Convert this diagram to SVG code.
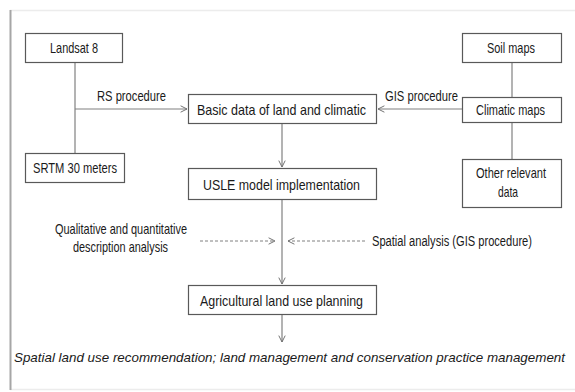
<svg xmlns="http://www.w3.org/2000/svg" width="575" height="392" viewBox="0 0 575 392">
<defs>
<marker id="arr" viewBox="0 0 10 10" refX="9" refY="5" markerWidth="8" markerHeight="8" markerUnits="userSpaceOnUse" orient="auto">
<path d="M1,1 L9,5 L1,9" fill="none" stroke="#6e6e6e" stroke-width="1.2"/>
</marker>
</defs>
<style>
.box{fill:#fff;stroke:#595959;stroke-width:1.2}
.ln{fill:none;stroke:#808080;stroke-width:1.2}
.dash{fill:none;stroke:#808080;stroke-width:1;stroke-dasharray:3,2}
text{font-family:"Liberation Sans",Arial,sans-serif;font-size:15px;fill:#1a1a1a}
.c{text-anchor:middle}
.sm{font-size:14px}
.it{font-style:italic;font-size:13px}
</style>
<rect x="0" y="0" width="575" height="392" fill="#fff"/>
<g id="frame">
<line x1="10" y1="10.5" x2="575" y2="10.5" stroke="#ececec" stroke-width="1.5"/>
<line x1="10" y1="389.5" x2="575" y2="389.5" stroke="#ececec" stroke-width="1.5"/>
<line x1="10.5" y1="10" x2="10.5" y2="390" stroke="#a6a6a6" stroke-width="2"/>
</g>
<g id="connectors">
<line class="ln" x1="75" y1="63" x2="75" y2="153"/>
<line class="ln" x1="75" y1="109" x2="187" y2="109" marker-end="url(#arr)"/>
<line class="ln" x1="512" y1="63" x2="512" y2="97"/>
<line class="ln" x1="512" y1="123" x2="512" y2="159"/>
<line class="ln" x1="462" y1="109" x2="378" y2="109" marker-end="url(#arr)"/>
<line class="ln" x1="282" y1="123" x2="282" y2="167" marker-end="url(#arr)"/>
<line class="ln" x1="282" y1="200" x2="282" y2="284" marker-end="url(#arr)"/>
<line class="ln" x1="282" y1="315" x2="282" y2="342" marker-end="url(#arr)"/>
<line class="dash" x1="200" y1="241" x2="275" y2="241" marker-end="url(#arr)"/>
<line class="dash" x1="365" y1="241" x2="288" y2="241" marker-end="url(#arr)"/>
</g>
<g id="landsat"><rect class="box" x="25.5" y="33.5" width="97" height="29"/><text class="c" x="74" y="53" textLength="48" lengthAdjust="spacingAndGlyphs">Landsat 8</text></g>
<g id="srtm"><rect class="box" x="25.5" y="153.5" width="99" height="29"/><text class="c" x="75" y="173" textLength="84" lengthAdjust="spacingAndGlyphs">SRTM 30 meters</text></g>
<g id="rs-label"><text x="97" y="101" textLength="69" lengthAdjust="spacingAndGlyphs">RS procedure</text></g>
<g id="basic"><rect class="box" x="188.5" y="94.5" width="188" height="29"/><text x="197" y="115" textLength="169" lengthAdjust="spacingAndGlyphs">Basic data of land and climatic</text></g>
<g id="gis-label"><text x="385" y="101" textLength="73" lengthAdjust="spacingAndGlyphs">GIS procedure</text></g>
<g id="soil"><rect class="box" x="462.5" y="33.5" width="99" height="29"/><text class="c" x="511" y="53" textLength="48" lengthAdjust="spacingAndGlyphs">Soil maps</text></g>
<g id="climatic"><rect class="box" x="462.5" y="97.5" width="99" height="25"/><text class="c" x="510.5" y="115" textLength="69" lengthAdjust="spacingAndGlyphs">Climatic maps</text></g>
<g id="other"><rect class="box" x="462.5" y="159.5" width="99" height="48"/><text class="c" x="511" y="178" textLength="70" lengthAdjust="spacingAndGlyphs">Other relevant</text><text class="c" x="508" y="197" textLength="20" lengthAdjust="spacingAndGlyphs">data</text></g>
<g id="usle"><rect class="box" x="188.5" y="168.5" width="188" height="31"/><text x="203" y="190" textLength="157" lengthAdjust="spacingAndGlyphs">USLE model implementation</text></g>
<g id="qual-label"><text class="c" x="121" y="234" textLength="132" lengthAdjust="spacingAndGlyphs">Qualitative and quantitative</text><text class="c" x="120.5" y="252" textLength="95" lengthAdjust="spacingAndGlyphs">description analysis</text></g>
<g id="spatial-label"><text class="sm" x="372" y="246" textLength="160" lengthAdjust="spacingAndGlyphs">Spatial analysis (GIS procedure)</text></g>
<g id="agri"><rect class="box" x="188.5" y="285.5" width="188" height="29"/><text x="200" y="306" textLength="163" lengthAdjust="spacingAndGlyphs">Agricultural land use planning</text></g>
<g id="result"><text class="it" x="14" y="362" textLength="551" lengthAdjust="spacingAndGlyphs">Spatial land use recommendation; land management and conservation practice management</text></g>
</svg>
